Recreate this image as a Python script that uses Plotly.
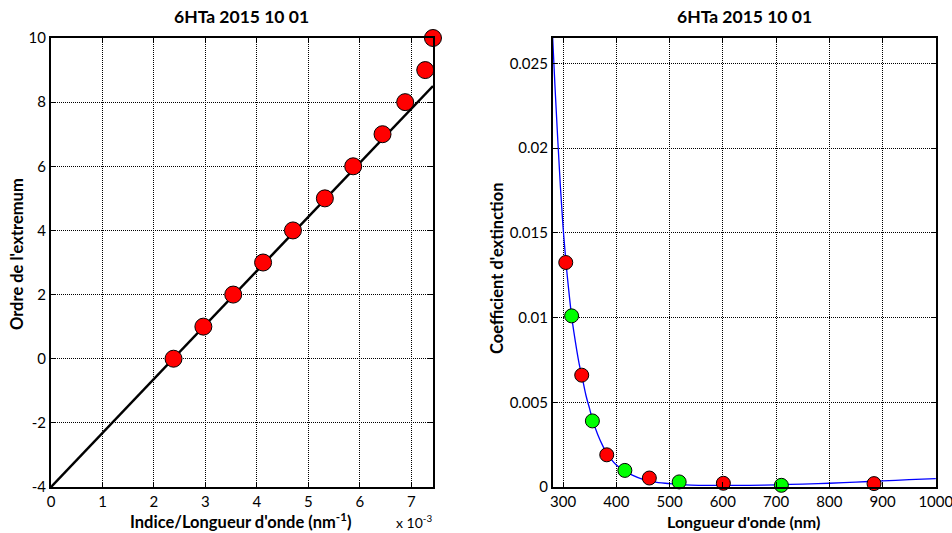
import plotly.graph_objects as go

# ---- Data ----
# Left panel: order of extremum vs index/wavelength (in units of 1e-3 nm^-1)
ratio_e3 = [2.38, 2.96, 3.54, 4.12, 4.70, 5.32, 5.87, 6.44, 6.88, 7.27, 7.42]
order = [0, 1, 2, 3, 4, 5, 6, 7, 8, 9, 10]
fit_slope = 1.685      # per 1e-3 nm^-1
fit_intercept = -4.0
fit_x_range = [0.0, 7.42]

# Right panel: extinction coefficient points
wl_pts = [305, 316, 335, 355, 382, 416, 462, 518, 601, 710, 884]
k_pts = [0.01325, 0.0101, 0.0066, 0.0039, 0.0019, 0.00098, 0.00053, 0.0003, 0.00022, 0.0001, 0.0002]
pt_colors = ["#FF0000", "#00FF00"] * 5 + ["#FF0000"]

# Right panel: model curve
wl_curve = [280, 285, 290, 295, 300, 305, 310, 316, 320, 330, 335, 343, 350, 355, 365, 375, 382,
            390, 400, 416, 430, 450, 470, 500, 530, 560, 600, 650, 700, 750, 800, 850, 900, 950, 1000]
k_curve = [0.0268, 0.0235, 0.0205, 0.0177, 0.0153, 0.0134, 0.0118, 0.0101, 0.0092, 0.0073, 0.0066,
           0.0054, 0.0046, 0.0040, 0.0031, 0.0024, 0.0020, 0.00165, 0.0013, 0.00095, 0.0007, 0.00045,
           0.0003, 0.0002, 0.00012, 0.0001, 0.0001, 0.0001, 0.00013, 0.00017, 0.00022, 0.00029,
           0.00036, 0.00043, 0.0005]

left_yticks = [-4, -2, 0, 2, 4, 6, 8, 10]
left_yticklabels = ["-4", "-2", "0", "2", "4", "6", "8", "10"]
left_xticks = [0, 1, 2, 3, 4, 5, 6, 7]
right_xticks = [300, 400, 500, 600, 700, 800, 900, 1000]
right_yticks = [0, 0.005, 0.01, 0.015, 0.02, 0.025]
right_yticklabels = ["0", "0.005", "0.01", "0.015", "0.02", "0.025"]
title_text = "6HTa 2015 10 01"

FONT = "Lato, Open Sans, sans-serif"

fig = go.Figure()

# Left: fit line
fit_y = [fit_intercept + fit_slope * x for x in fit_x_range]
fig.add_trace(go.Scatter(x=fit_x_range, y=fit_y, mode="lines",
                         line=dict(color="black", width=2.5), xaxis="x", yaxis="y",
                         showlegend=False, hoverinfo="skip"))
fig.add_trace(go.Scatter(x=ratio_e3, y=order, mode="markers",
                         marker=dict(color="#FF0000", size=17, line=dict(color="black", width=1)),
                         xaxis="x", yaxis="y", showlegend=False, cliponaxis=False))

# Right: curve and points
fig.add_trace(go.Scatter(x=wl_curve, y=k_curve, mode="lines", line_shape="spline",
                         line=dict(color="#0000FF", width=1.3), xaxis="x2", yaxis="y2",
                         showlegend=False))
fig.add_trace(go.Scatter(x=wl_pts, y=k_pts, mode="markers",
                         marker=dict(color=pt_colors, size=14, line=dict(color="black", width=1)),
                         xaxis="x2", yaxis="y2", showlegend=False, cliponaxis=False))

axis_common = dict(showline=True, linecolor="black", linewidth=2, mirror="ticks",
                   ticks="inside", ticklen=5, tickcolor="black", showgrid=True,
                   gridcolor="black", griddash="1px,1px", gridwidth=1, zeroline=False,
                   ticklabeloverflow="allow", automargin=False,
                   tickfont=dict(family=FONT, size=15, color="black"))

W, H, L, R, T, B = 952, 533, 51, 16, 38, 46
pw, ph = W - L - R, H - T - B

fig.update_layout(
    width=W, height=H,
    margin=dict(l=L, r=R, t=T, b=B, autoexpand=False),
    paper_bgcolor="white", plot_bgcolor="white",
    font=dict(family=FONT, color="black"),
    xaxis=dict(domain=[0, 0.4316], range=[0, 7.42], tickvals=left_xticks, anchor="y", **axis_common),
    yaxis=dict(domain=[0, 1], range=[-4, 10], tickvals=left_yticks, ticktext=left_yticklabels,
               anchor="x", **axis_common),
    xaxis2=dict(domain=[0.5672, 1], range=[281, 1000.4], tickvals=right_xticks, anchor="y2", **axis_common),
    yaxis2=dict(domain=[0, 1], range=[0, 0.0265], tickvals=right_yticks, ticktext=right_yticklabels,
                anchor="x2", **axis_common),
)


def px(x):
    return (x - L) / pw


def py(y):
    return (H - B - y) / ph


anns = [
    dict(text="<b>" + title_text + "</b>", x=px(241), y=py(17), size=17.5, angle=0),
    dict(text="<b>" + title_text + "</b>", x=px(744), y=py(17), size=17.5, angle=0),
    dict(text="<b>Ordre de l'extremum</b>", x=px(17), y=py(254), size=16.5, angle=-90),
    dict(text="<b>Coefficient d'extinction</b>", x=px(497), y=py(268), size=16.5, angle=-90),
    dict(text="<b>Indice/Longueur d'onde (nm<sup>-1</sup>)</b>", x=px(240), y=py(521), size=16.5, angle=0),
    dict(text="x 10<sup>-3</sup>", x=px(414), y=py(521), size=14, angle=0),
    dict(text="<b>Longueur d'onde (nm)</b>", x=px(743), y=py(521), size=16, angle=0),
]
fig.layout.annotations = [
    dict(text=a["text"], x=a["x"], y=a["y"], xref="paper", yref="paper", showarrow=False,
         textangle=a["angle"], xanchor="center", yanchor="middle",
         font=dict(family=FONT, size=a["size"], color="black"))
    for a in anns
]

fig.write_html("out.html", config={"displayModeBar": False},
               post_script="document.body.style.margin='0';")
